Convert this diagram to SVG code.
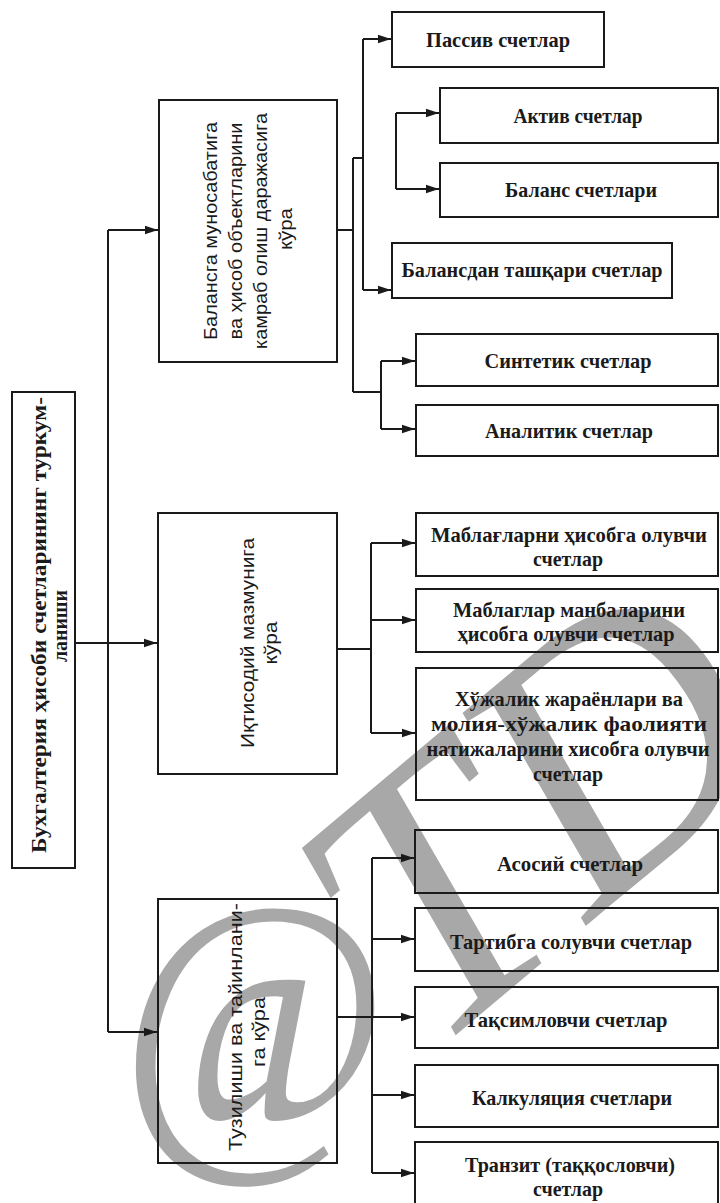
<svg xmlns="http://www.w3.org/2000/svg" width="720" height="1203" viewBox="0 0 720 1203">
  <style>
    .box { fill: none; stroke: #1a1a1a; stroke-width: 2; }
    .link { fill: none; stroke: #1a1a1a; stroke-width: 2; }
    .arr { fill: none; stroke: #1a1a1a; stroke-width: 2; marker-end: url(#head); }
    .leaf { font-family: "Liberation Serif", "DejaVu Serif", serif; font-weight: bold; font-size: 21px; fill: #1a1a1a; text-anchor: middle; }
    .root { font-family: "Liberation Serif", "DejaVu Serif", serif; font-weight: bold; font-size: 22px; fill: #1a1a1a; text-anchor: middle; }
    .side { font-family: "Liberation Sans", "DejaVu Sans", sans-serif; font-size: 19px; fill: #1a1a1a; text-anchor: middle; }
    .mark { font-family: "Liberation Serif", "DejaVu Serif", serif; fill: #a8a8a8; }
  </style>
  <defs>
    <marker id="head" markerUnits="userSpaceOnUse" markerWidth="14" markerHeight="10" refX="13" refY="5" orient="auto">
      <path d="M0,0.8 L13,5 L0,9.2 Z" fill="#1a1a1a"/>
    </marker>
  </defs>

  <rect width="720" height="1203" fill="#ffffff"/>

  <!-- publisher mark, drawn under the chart -->
  <g id="mark">
    <text class="mark" font-size="325" text-anchor="middle" transform="translate(255,1050) scale(0.9,1)" x="0" y="75">@</text>
    <text class="mark" font-size="370" font-style="italic" transform="translate(488,1008) rotate(-40)" x="-74" y="0">TD</text>
  </g>

  <!-- connectors -->
  <g id="connectors">
    <!-- root to the three classification criteria -->
    <path class="arr" d="M75,643 H157"/>
    <path class="link" d="M108,230 V1032"/>
    <path class="arr" d="M108,230 H158"/>
    <path class="arr" d="M108,1032 H157"/>

    <!-- balance criterion -->
    <path class="link" d="M337,230 H353"/>
    <path class="link" d="M353,158 V392"/>
    <path class="link" d="M353,158 H363"/>
    <path class="link" d="M363,39 V290"/>
    <path class="arr" d="M363,39 H391"/>
    <path class="arr" d="M363,290 H391"/>
    <path class="link" d="M396,113 V189"/>
    <path class="arr" d="M396,113 H439"/>
    <path class="arr" d="M396,189 H439"/>
    <path class="link" d="M353,392 H381"/>
    <path class="link" d="M381,361 V429"/>
    <path class="arr" d="M381,361 H415"/>
    <path class="arr" d="M381,429 H415"/>

    <!-- economic content criterion -->
    <path class="link" d="M337,649 H371"/>
    <path class="link" d="M371,543 V733"/>
    <path class="arr" d="M371,543 H415"/>
    <path class="arr" d="M371,620 H415"/>
    <path class="arr" d="M371,733 H415"/>

    <!-- structure and purpose criterion -->
    <path class="link" d="M337,1017 H372"/>
    <path class="link" d="M372,858 V1173"/>
    <path class="arr" d="M372,858 H414"/>
    <path class="arr" d="M372,939 H414"/>
    <path class="arr" d="M372,1017 H414"/>
    <path class="arr" d="M372,1095 H414"/>
    <path class="arr" d="M372,1173 H414"/>
  </g>

  <!-- root -->
  <g id="root">
    <rect class="box" x="12" y="392" width="63" height="476"/>
    <text class="root" transform="translate(46,625) rotate(-90)" textLength="456" lengthAdjust="spacingAndGlyphs">Бухгалтерия ҳисоби счетларининг туркум-</text>
    <text class="root" transform="translate(67,626) rotate(-90)" textLength="72" lengthAdjust="spacingAndGlyphs">ланиши</text>
  </g>

  <!-- criteria -->
  <g id="by-balance">
    <rect class="box" x="159" y="100" width="178" height="262"/>
    <text class="side" transform="translate(217,231) rotate(-90)" textLength="218" lengthAdjust="spacingAndGlyphs">Балансга муносабатига</text>
    <text class="side" transform="translate(242,231) rotate(-90)" textLength="217" lengthAdjust="spacingAndGlyphs">ва ҳисоб объектларини</text>
    <text class="side" transform="translate(267,231) rotate(-90)" textLength="236" lengthAdjust="spacingAndGlyphs">камраб олиш даражасига</text>
    <text class="side" transform="translate(292,229) rotate(-90)" textLength="42" lengthAdjust="spacingAndGlyphs">кўра</text>
  </g>

  <g id="by-content">
    <rect class="box" x="158" y="513" width="179" height="261"/>
    <text class="side" transform="translate(254,643) rotate(-90)" textLength="210" lengthAdjust="spacingAndGlyphs">Иқтисодий мазмунига</text>
    <text class="side" transform="translate(277,643) rotate(-90)" textLength="43" lengthAdjust="spacingAndGlyphs">кўра</text>
  </g>

  <g id="by-structure">
    <rect class="box" x="158" y="899" width="179" height="264"/>
    <text class="side" transform="translate(242,1027) rotate(-90)" textLength="248" lengthAdjust="spacingAndGlyphs">Тузилиши ва тайинлани-</text>
    <text class="side" transform="translate(265,1032) rotate(-90)" textLength="70" lengthAdjust="spacingAndGlyphs">га кўра</text>
  </g>

  <!-- balance group -->
  <g id="passive">
    <rect class="box" x="392" y="12" width="212" height="55"/>
    <text class="leaf" x="498" y="47" textLength="144" lengthAdjust="spacingAndGlyphs">Пассив счетлар</text>
  </g>
  <g id="active">
    <rect class="box" x="440" y="88" width="278" height="55"/>
    <text class="leaf" x="578" y="123" textLength="129" lengthAdjust="spacingAndGlyphs">Актив счетлар</text>
  </g>
  <g id="balance-accounts">
    <rect class="box" x="440" y="163" width="278" height="54"/>
    <text class="leaf" x="581" y="197" textLength="152" lengthAdjust="spacingAndGlyphs">Баланс счетлари</text>
  </g>
  <g id="off-balance">
    <rect class="box" x="392" y="243" width="280" height="55"/>
    <text class="leaf" x="532" y="277" textLength="261" lengthAdjust="spacingAndGlyphs">Балансдан ташқари счетлар</text>
  </g>
  <g id="synthetic">
    <rect class="box" x="416" y="334" width="302" height="52"/>
    <text class="leaf" x="568" y="368" textLength="167" lengthAdjust="spacingAndGlyphs">Синтетик счетлар</text>
  </g>
  <g id="analytic">
    <rect class="box" x="416" y="405" width="302" height="51"/>
    <text class="leaf" x="569" y="438" textLength="168" lengthAdjust="spacingAndGlyphs">Аналитик счетлар</text>
  </g>

  <!-- economic content group -->
  <g id="assets">
    <rect class="box" x="416" y="513" width="302" height="63"/>
    <text class="leaf" x="569" y="542" textLength="276" lengthAdjust="spacingAndGlyphs">Маблағларни ҳисобга олувчи</text>
    <text class="leaf" x="568" y="566" textLength="70" lengthAdjust="spacingAndGlyphs">счетлар</text>
  </g>
  <g id="sources">
    <rect class="box" x="416" y="589" width="302" height="63"/>
    <text class="leaf" x="569" y="617" textLength="232" lengthAdjust="spacingAndGlyphs">Маблаглар манбаларини</text>
    <text class="leaf" x="566" y="641" textLength="217" lengthAdjust="spacingAndGlyphs">ҳисобга олувчи счетлар</text>
  </g>
  <g id="processes">
    <rect class="box" x="416" y="668" width="302" height="132"/>
    <text class="leaf" x="569" y="706" textLength="228" lengthAdjust="spacingAndGlyphs">Хўжалик жараёнлари ва</text>
    <text class="leaf" x="569" y="731" textLength="276" lengthAdjust="spacingAndGlyphs">молия-хўжалик фаолияти</text>
    <text class="leaf" x="568" y="756" textLength="283" lengthAdjust="spacingAndGlyphs">натижаларини хисобга олувчи</text>
    <text class="leaf" x="568" y="781" textLength="70" lengthAdjust="spacingAndGlyphs">счетлар</text>
  </g>

  <!-- structure and purpose group -->
  <g id="main-accounts">
    <rect class="box" x="415" y="830" width="303" height="63"/>
    <text class="leaf" x="570" y="871" textLength="146" lengthAdjust="spacingAndGlyphs">Асосий счетлар</text>
  </g>
  <g id="regulating">
    <rect class="box" x="415" y="908" width="303" height="63"/>
    <text class="leaf" x="571" y="949" textLength="242" lengthAdjust="spacingAndGlyphs">Тартибга солувчи счетлар</text>
  </g>
  <g id="distributing">
    <rect class="box" x="415" y="987" width="303" height="61"/>
    <text class="leaf" x="566" y="1027" textLength="203" lengthAdjust="spacingAndGlyphs">Тақсимловчи счетлар</text>
  </g>
  <g id="costing">
    <rect class="box" x="415" y="1065" width="303" height="62"/>
    <text class="leaf" x="572" y="1105" textLength="200" lengthAdjust="spacingAndGlyphs">Калкуляция счетлари</text>
  </g>
  <g id="transit">
    <rect class="box" x="415" y="1142" width="303" height="70"/>
    <text class="leaf" x="570" y="1172" textLength="210" lengthAdjust="spacingAndGlyphs">Транзит (таққословчи)</text>
    <text class="leaf" x="568" y="1196" textLength="70" lengthAdjust="spacingAndGlyphs">счетлар</text>
  </g>
</svg>
